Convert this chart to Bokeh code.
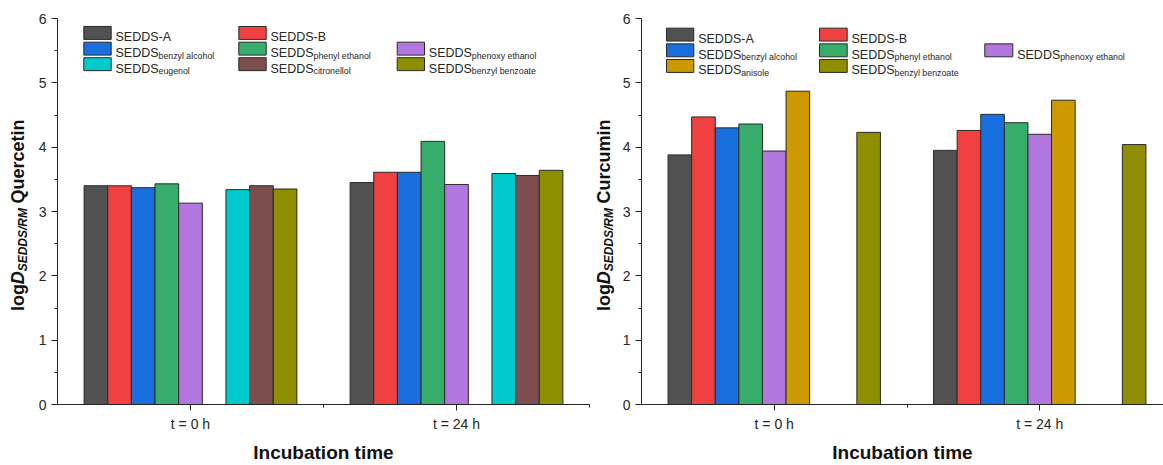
import math
from bokeh.plotting import figure
from bokeh.layouts import row
from bokeh.models import FixedTicker, Label, BoxAnnotation
from bokeh.embed import file_html
from bokeh.resources import INLINE

# ---------------- data ----------------
group_labels = ["t = 0 h", "t = 24 h"]
group_x = [1, 2]

series_names = ["SEDDS-A", "SEDDS-B", "benzyl alcohol", "phenyl ethanol",
                "phenoxy ethanol", "anisole", "eugenol", "citronellol",
                "benzyl benzoate"]
series_colors = ["#515151", "#F14040", "#1A6FDF", "#37AD6B", "#B177DE",
                 "#CC9900", "#00CBCC", "#7D4E4E", "#8E8E00"]

# log D values per series slot (None = not measured)
quercetin_t0 = [3.40, 3.40, 3.37, 3.43, 3.13, None, 3.34, 3.40, 3.35]
quercetin_t24 = [3.45, 3.61, 3.61, 4.09, 3.42, None, 3.59, 3.56, 3.64]
curcumin_t0 = [3.88, 4.47, 4.30, 4.36, 3.94, 4.87, None, None, 4.23]
curcumin_t24 = [3.95, 4.26, 4.51, 4.38, 4.20, 4.73, None, None, 4.04]

y_ticks = [0, 1, 2, 3, 4, 5, 6]

# legend layout: (slot, row, col)
legend_left = [(0, 0, 0), (1, 0, 1), (2, 1, 0), (3, 1, 1), (4, 1, 2),
               (6, 2, 0), (7, 2, 1), (8, 2, 2)]
legend_right = [(0, 0, 0), (1, 0, 1), (2, 1, 0), (3, 1, 1), (4, 1, 2),
                (5, 2, 0), (8, 2, 1)]

FONT = "Liberation Sans"
TXT = "#262626"
AX = "#262626"
H = 465
TOP, BOTTOM = 18, 59
FH = H - TOP - BOTTOM
N_SLOTS = len(series_names)
SLOT_W = 0.8 / N_SLOTS


def label_fig(width, base_px, compound):
    """Narrow panel carrying the rotated y-axis title (pixel coordinates).
    Its frame is aligned with the charts' frames (rows align frames)."""
    f = figure(width=width, height=H, x_range=(0, width),
               y_range=(BOTTOM, H - TOP), title=None,
               min_border_left=0, min_border_right=0, min_border_top=TOP,
               min_border_bottom=BOTTOM, x_axis_type=None, y_axis_type=None,
               output_backend="svg", toolbar_location=None)
    f.xgrid.visible = False
    f.ygrid.visible = False
    f.outline_line_color = None
    f.border_fill_color = "white"
    # (text, style, size, baseline shift, centre offset from baseline)
    pieces = [("log", "bold", "18px", 0, 6.2),
              ("D", "bold italic", "18px", 0, 6.2),
              ("SEDDS/RM", "bold italic", "12px", 3, 4.2),
              (compound, "bold", "18px", 0, 6.2)]
    widths = [27.0, 13.0, 63.3, 84.0]
    ypx = 312.0
    for (text, style, size, shift, coff), w in zip(pieces, widths):
        cy = ypx - w / 2
        cx = base_px + shift - coff
        f.add_layout(Label(x=cx, y=H - cy, text=text,
                           angle=math.pi / 2, text_font=FONT,
                           text_font_style=style, text_font_size=size,
                           text_align="center", text_baseline="middle",
                           text_color="#111111"))
        ypx -= w + (5.0 if text.startswith("SEDDS") else 0.0)
    return f


def make_fig(width, left, right, x_end, t0, t24, legend_items,
             leg_cols_px, leg_rows_px):
    p = figure(width=width, height=H, x_range=(0.5, x_end), y_range=(0, 6),
               title=None,
               min_border_left=left, min_border_right=right,
               min_border_top=TOP, min_border_bottom=BOTTOM,
               output_backend="svg", toolbar_location=None)
    p.xgrid.visible = False
    p.ygrid.visible = False
    p.outline_line_color = None
    p.background_fill_color = "white"
    p.border_fill_color = "white"

    fw = width - left - right
    xs = fw / (x_end - 0.5)
    ys = FH / 6.0

    def X(px):  # px relative to this figure's left edge
        return 0.5 + (px - left) / xs

    def Y(py):
        return (H - BOTTOM - py) / ys

    for i in range(N_SLOTS):
        xv, tv = [], []
        for g, vals in zip(group_x, (t0, t24)):
            if vals[i] is not None:
                xv.append(g + (i - (N_SLOTS - 1) / 2) * SLOT_W)
                tv.append(vals[i])
        if xv:
            p.vbar(x=xv, top=tv, bottom=0, width=SLOT_W,
                   fill_color=series_colors[i], line_color="#2a2a2a",
                   line_width=1)

    # axes
    p.xaxis.ticker = FixedTicker(ticks=group_x, minor_ticks=[1.5, 2.5])
    p.xaxis.major_label_overrides = {g: l for g, l in zip(group_x, group_labels)}
    p.yaxis.ticker = FixedTicker(ticks=y_ticks,
                                 minor_ticks=[t + 0.5 for t in y_ticks[:-1]])
    for ax in (p.xaxis[0], p.yaxis[0]):
        ax.axis_line_color = AX
        ax.major_tick_line_color = AX
        ax.minor_tick_line_color = AX
        ax.major_tick_in = 0
        ax.minor_tick_in = 0
        ax.major_tick_out = 6
        ax.minor_tick_out = 3
        ax.major_label_text_font = FONT
        ax.major_label_text_font_size = "14px"
        ax.major_label_text_color = TXT
        ax.major_label_standoff = 5
    p.xaxis.axis_label = "Incubation time"
    p.xaxis.axis_label_text_font = FONT
    p.xaxis.axis_label_text_font_size = "19px"
    p.xaxis.axis_label_text_font_style = "bold"
    p.xaxis.axis_label_text_color = "#111111"
    p.xaxis.axis_label_standoff = 7

    # legend
    for slot, r, c in legend_items:
        sx0, sx1, tx = leg_cols_px[c]
        cy = leg_rows_px[r]
        p.add_layout(BoxAnnotation(left=X(sx0), right=X(sx1),
                                   top=Y(cy - 6.5), bottom=Y(cy + 6.5),
                                   fill_color=series_colors[slot], fill_alpha=1,
                                   line_color="#2a2a2a", line_width=1,
                                   line_alpha=1))
        name = series_names[slot]
        if name.startswith("SEDDS"):
            p.add_layout(Label(x=X(tx), y=Y(cy + 4.5), text=name,
                               text_font=FONT, text_font_size="12.5px",
                               text_baseline="alphabetic", text_color=TXT))
        else:
            p.add_layout(Label(x=X(tx), y=Y(cy + 4.5), text="SEDDS",
                               text_font=FONT, text_font_size="12.5px",
                               text_baseline="alphabetic", text_color=TXT))
            p.add_layout(Label(x=X(tx + 43.0), y=Y(cy + 7.2), text=name,
                               text_font=FONT, text_font_size="8.8px",
                               text_baseline="alphabetic", text_color=TXT))
    return p


# page columns: [0,32) label | [32,590) left chart | [590,618) label | [618,1163) right chart
lab_left = label_fig(32, 24, "Quercetin")
left_fig = make_fig(558, 25, 1, 2.5, quercetin_t0, quercetin_t24, legend_left,
                    [(83.3 - 32, 110.7 - 32, 115.0 - 32),
                     (238.3 - 32, 265.7 - 32, 270.0 - 32),
                     (396.7 - 32, 424.0 - 32, 428.3 - 32)],
                    [32.5, 48.3, 63.9])
lab_right = label_fig(28, 610 - 590, "Curcumin")
right_fig = make_fig(545, 23, 0, 0.5 + 522 / 265.5, curcumin_t0, curcumin_t24,
                     legend_right,
                     [(666.0 - 618, 693.3 - 618, 697.7 - 618),
                      (819.0 - 618, 846.7 - 618, 851.0 - 618),
                      (984.3 - 618, 1012.3 - 618, 1016.7 - 618)],
                     [34.2, 50.0, 65.7])

layout = row(lab_left, left_fig, lab_right, right_fig)
open("out.html", "w").write(file_html(layout, INLINE))
